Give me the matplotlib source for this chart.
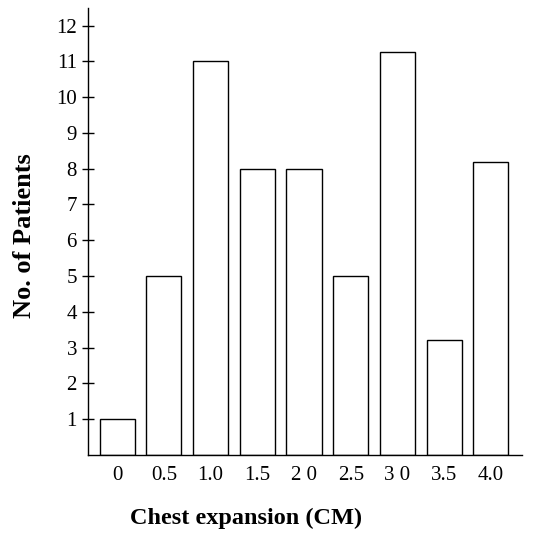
import numpy as np
import matplotlib.pyplot as plt

plt.rcParams['font.family'] = ['Liberation Serif', 'DejaVu Serif']

labels = ['0', '0.5', '1.0', '1.5', '2 0', '2.5', '3 0', '3.5', '4.0']
patients = [1, 5, 11, 8, 8, 5, 11.25, 3.2, 8.2]
yticks = list(range(1, 13))

fig = plt.figure(figsize=(5.34, 5.34), dpi=100)
ax = fig.add_axes([0.165, 0.148, 0.813, 0.837])

x = np.arange(len(labels))
ax.bar(x, patients, width=0.75, facecolor='white', edgecolor='black', linewidth=1.0)

ax.set_xlim(-0.62, len(labels) - 1 + 0.67)
ax.set_ylim(0, 12.49)
ax.set_xticks(x)
ax.set_xticklabels(labels, fontsize=15)
ax.set_yticks(yticks)
ax.set_yticklabels([str(v) for v in yticks], fontsize=15)
ax.tick_params(axis='x', length=0, pad=8)
ax.tick_params(axis='y', direction='inout', length=8, width=1.0, pad=4)

for s in ['top', 'right']:
    ax.spines[s].set_visible(False)
for s in ['left', 'bottom']:
    ax.spines[s].set_linewidth(1.0)

ax.set_ylabel('No. of Patients', fontsize=19, fontweight='bold', va='center')
ax.yaxis.set_label_coords(-0.146, 0.49)
ax.set_xlabel('Chest expansion (CM)', fontsize=17.5, fontweight='bold', va='center')
ax.xaxis.set_label_coords(0.363, -0.141)

fig.savefig('out.png', dpi=100)
